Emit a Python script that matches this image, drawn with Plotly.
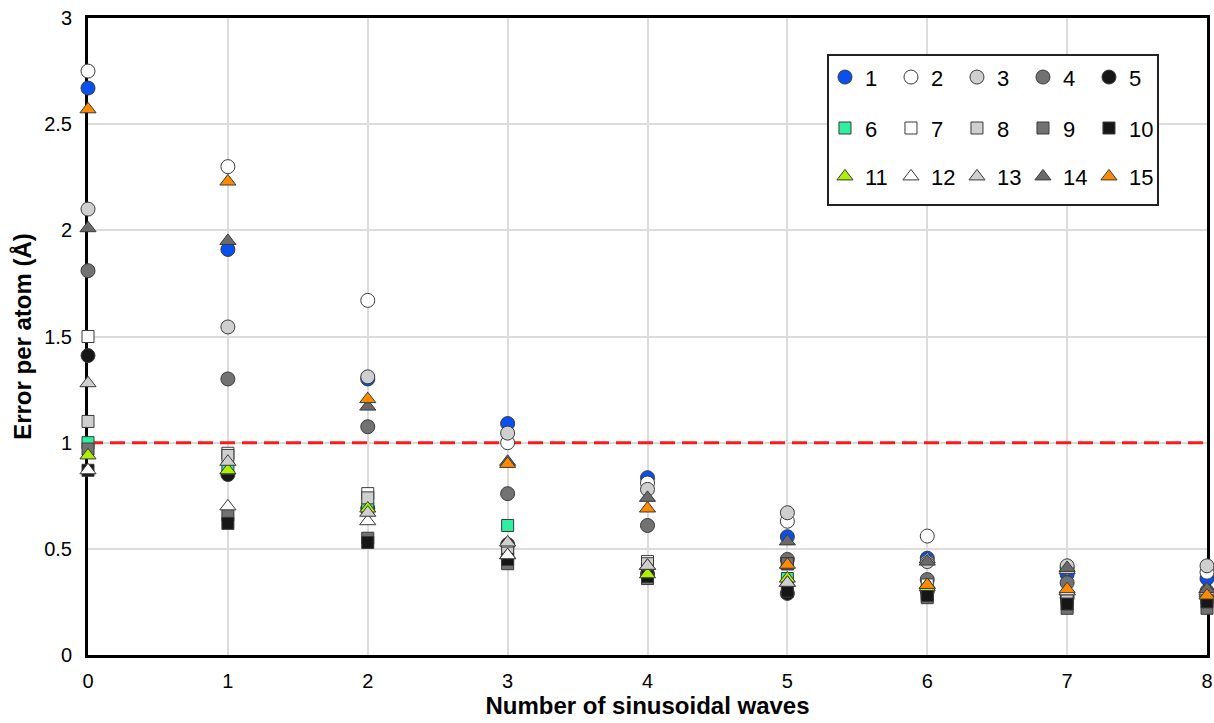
import plotly.graph_objects as go

waves = [0, 1, 2, 3, 4, 5, 6, 7, 8]
names = [str(i) for i in range(1, 16)]

s1 = [2.67, 1.91, 1.30, 1.09, 0.835, 0.557, 0.456, 0.38, 0.36]
s2 = [2.75, 2.30, 1.67, 1.00, 0.81, 0.63, 0.56, 0.41, 0.39]
s3 = [2.10, 1.545, 1.31, 1.045, 0.78, 0.67, 0.44, 0.42, 0.42]
s4 = [1.81, 1.30, 1.075, 0.76, 0.61, 0.45, 0.355, 0.34, 0.30]
s5 = [1.41, 0.85, 0.69, 0.52, 0.38, 0.29, 0.30, 0.27, 0.28]
s6 = [1.00, 0.88, 0.69, 0.61, 0.40, 0.36, 0.30, 0.27, 0.27]
s7 = [1.50, 0.95, 0.76, 0.50, 0.44, 0.43, 0.33, 0.27, 0.28]
s8 = [1.10, 0.94, 0.74, 0.48, 0.43, 0.43, 0.29, 0.26, 0.27]
s9 = [0.97, 0.66, 0.55, 0.43, 0.36, 0.43, 0.27, 0.22, 0.22]
s10 = [0.87, 0.62, 0.53, 0.45, 0.37, 0.30, 0.28, 0.24, 0.25]
s11 = [0.94, 0.87, 0.69, 0.47, 0.38, 0.36, 0.32, 0.30, 0.29]
s12 = [0.87, 0.70, 0.63, 0.47, 0.42, 0.34, 0.33, 0.30, 0.30]
s13 = [1.28, 0.91, 0.67, 0.53, 0.42, 0.34, 0.45, 0.40, 0.31]
s14 = [2.01, 1.95, 1.17, 0.91, 0.74, 0.535, 0.44, 0.41, 0.31]
s15 = [2.57, 2.23, 1.205, 0.90, 0.69, 0.425, 0.33, 0.31, 0.28]

series = [s1, s2, s3, s4, s5, s6, s7, s8, s9, s10, s11, s12, s13, s14, s15]
colors = ["#0a4ff0", "#ffffff", "#cfcfcf", "#727272", "#161616",
          "#2ef0a0", "#ffffff", "#cfcfcf", "#727272", "#161616",
          "#aef000", "#ffffff", "#cfcfcf", "#6a6a6a", "#ff8a00"]
symbols = ["circle"] * 5 + ["square"] * 5 + ["triangle-up"] * 5
sizes = [14] * 5 + [12] * 5 + [14] * 5
legends = ["legend"] * 5 + ["legend2"] * 5 + ["legend3"] * 5

threshold = 1.0
x_range = [0, 8]

fig = go.Figure()
fig.add_trace(go.Scatter(
    x=x_range, y=[threshold, threshold], mode="lines", showlegend=False,
    hoverinfo="skip", line=dict(color="#ff1a1a", width=3, dash="15px,7px"),
))
for i, ys in enumerate(series):
    fig.add_trace(go.Scatter(
        x=waves, y=ys, mode="markers", name=names[i],
        legend=legends[i], cliponaxis=False,
        marker=dict(symbol=symbols[i], size=sizes[i], color=colors[i],
                    line=dict(color="#3a3a3a", width=1)),
    ))

# legend frame
fig.add_shape(type="rect", xref="paper", yref="paper",
              x0=0.6613, x1=0.9562, y0=0.7064, y1=0.9419,
              line=dict(color="#222222", width=2), fillcolor="white", layer="above")

leg_common = dict(orientation="h", xanchor="left", yanchor="middle",
                  bgcolor="rgba(0,0,0,0)", borderwidth=0,
                  font=dict(family="Arial", size=22, color="black"),
                  entrywidth=21, entrywidthmode="pixels", tracegroupgap=0,
                  itemwidth=30)

fig.update_layout(
    width=1214, height=723,
    margin=dict(l=88, r=7, t=18, b=68, autoexpand=False),
    paper_bgcolor="white", plot_bgcolor="white",
    font=dict(family="Arial", color="black"),
    legend=dict(x=0.6586, y=0.907, **leg_common),
    legend2=dict(x=0.6586, y=0.827, **leg_common),
    legend3=dict(x=0.6586, y=0.751, **leg_common),
    xaxis=dict(range=x_range, dtick=1, tick0=0, showgrid=True, gridcolor="#dcdcdc", gridwidth=1.5,
               zeroline=False, showline=True, linecolor="black", linewidth=3, mirror=True,
               ticks="", tickfont=dict(size=20, color="black"), layer="below traces",
               ticklabelstandoff=6,
               title=dict(text="<b>Number of sinusoidal waves</b>", font=dict(size=24), standoff=6)),
    yaxis=dict(range=[0, 3], dtick=0.5, tick0=0, showgrid=True, gridcolor="#dcdcdc", gridwidth=1.5,
               zeroline=False, showline=True, linecolor="black", linewidth=3, mirror=True,
               ticks="", tickfont=dict(size=20, color="black"), layer="below traces",
               ticklabelstandoff=9,
               title=dict(text="<b>Error per atom (Å)</b>", font=dict(size=24), standoff=6)),
)

fig.write_html("out.html")
